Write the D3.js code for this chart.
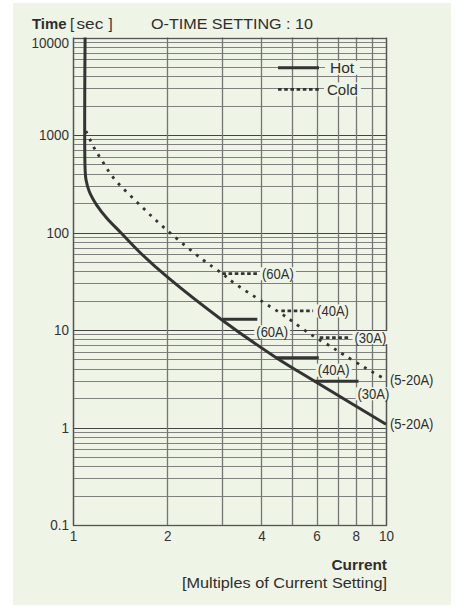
<!DOCTYPE html>
<html>
<head>
<meta charset="utf-8">
<script src="https://cdn.jsdelivr.net/npm/d3@7"></script>
<style>
  html, body { margin: 0; padding: 0; background: #ffffff; }
  svg { display: block; }
  text { font-family: "Liberation Sans", Arial, Helvetica, sans-serif; fill: #2e2e2e; }
</style>
</head>
<body>
<svg id="chart" width="458" height="606"></svg>
<script>
// ---------------- data ----------------
const xTickValues = [1, 2, 4, 6, 8, 10];
const xTickLabels = ["1", "2", "4", "6", "8", "10"];
const yTickValues = [0.1, 1, 10, 100, 1000, 10000];
const yTickLabels = ["0.1", "1", "10", "100", "1000", "10000"];

// Hot curve (current multiple, seconds)
const hotCurrent = [1.093, 1.093, 1.1, 1.128, 1.192, 1.283, 1.42, 1.64, 2.0, 3.0, 4.46, 5.9, 10];
const hotTime    = [10000, 450, 350, 262, 190, 140, 100, 62, 35, 12.6, 5.2, 3.0, 1.08];

// Cold curve
const coldCurrent = [1.1, 1.168, 1.237, 1.348, 1.64, 2.0, 2.59, 3.0, 3.24, 4.04, 4.63, 5.0, 5.78, 6.7, 7.31, 8.48, 9.24, 10];
const coldTime    = [1100, 739, 548, 362, 190, 105, 53, 37.8, 31, 19.4, 14.7, 12.4, 8.9, 6.7, 5.6, 4.19, 3.57, 3.1];

// Rating steps (horizontal cut-offs)
const stepSeries = ["cold", "cold", "cold", "hot", "hot", "hot"];
const stepLabels = ["(60A)", "(40A)", "(30A)", "(60A)", "(40A)", "(30A)"];
const stepStart  = [3.0, 4.63, 6.14, 3.0, 4.46, 5.9];
const stepEnd    = [3.9, 5.85, 7.7, 3.88, 6.1, 8.17];
const stepTime   = [37.8, 15.7, 8.36, 12.9, 5.2, 2.98];

const endLabel = "(5-20A)";
const legendNames = ["Hot", "Cold"];

// ---------------- drawing ----------------
const BG = "#eef4e6";
const INK = "#333333";
const svg = d3.select("#chart");

svg.append("rect").attr("x", 13).attr("y", 3).attr("width", 438).attr("height", 602).attr("fill", BG);

const plot = { left: 73, right: 386, top: 37.5, bottom: 525 };
const x = d3.scaleLog().domain([1, 10]).range([plot.left, plot.right]);
const y = d3.scaleLog().domain([0.1, 10000]).range([plot.bottom, plot.top]);

// condense helper: keep real text, slightly narrower glyphs
function condense(sel, f) {
  sel.each(function () {
    const w = this.getComputedTextLength();
    d3.select(this).attr("textLength", w * f).attr("lengthAdjust", "spacingAndGlyphs");
  });
}

// grid
const grid = svg.append("g");
const yGrid = y.ticks();
grid.selectAll("line.h").data(yGrid).join("line")
  .attr("x1", plot.left).attr("x2", plot.right)
  .attr("y1", d => Math.round(y(d)) + 0.5).attr("y2", d => Math.round(y(d)) + 0.5)
  .attr("stroke", d => Math.abs(Math.log10(d) - Math.round(Math.log10(d))) < 1e-6 ? "#444" : "#808080")
  .attr("stroke-width", 1.1);
const xGrid = x.ticks();
grid.selectAll("line.v").data(xGrid).join("line")
  .attr("y1", plot.top).attr("y2", plot.bottom)
  .attr("x1", d => Math.round(x(d)) + 0.5).attr("x2", d => Math.round(x(d)) + 0.5)
  .attr("stroke", "#767676").attr("stroke-width", 1.3);
grid.append("rect")
  .attr("x", plot.left + 0.5).attr("y", Math.round(plot.top) + 0.5)
  .attr("width", plot.right - plot.left).attr("height", plot.bottom - Math.round(plot.top))
  .attr("fill", "none").attr("stroke", "#555").attr("stroke-width", 1.3);

// axes
const yAxis = svg.append("g").attr("transform", `translate(${plot.left},0)`)
  .call(d3.axisLeft(y).tickValues(yTickValues).tickFormat((d, i) => yTickLabels[i]).tickSize(0).tickPadding(4));
yAxis.select(".domain").remove();
yAxis.selectAll("text").attr("font-size", 14.5).attr("font-family", null).style("fill", INK);
condense(yAxis.selectAll("text"), 0.93);
yAxis.selectAll(".tick").filter(d => d === 10000).select("text").attr("dy", "0.7em");

const xAxis = svg.append("g").attr("transform", `translate(0,${plot.bottom})`)
  .call(d3.axisBottom(x).tickValues(xTickValues).tickFormat((d, i) => xTickLabels[i]).tickSize(0).tickPadding(6));
xAxis.select(".domain").remove();
xAxis.selectAll("text").attr("font-size", 14.5).attr("font-family", null).style("fill", INK);
condense(xAxis.selectAll("text"), 0.93);

// helper: text with background box (hides grid lines)
function labelWithBg(g, tx, ty, str, opts = {}) {
  const t = g.append("text").attr("x", tx).attr("y", ty).attr("dy", "0.36em")
    .attr("font-size", opts.size || 14).attr("text-anchor", opts.anchor || "start").text(str);
  condense(t, opts.squeeze || 0.93);
  const b = t.node().getBBox();
  const pad = opts.pad == null ? 2 : opts.pad;
  g.insert("rect", () => t.node())
    .attr("x", b.x - pad).attr("y", b.y + 1.5).attr("width", b.width + 2 * pad).attr("height", b.height - 3)
    .attr("fill", BG);
  return t;
}

// curves
const line = d3.line().x(d => x(d[0])).y(d => y(d[1])).curve(d3.curveCatmullRom.alpha(0.5));
const hotPts = hotCurrent.map((c, i) => [c, hotTime[i]]);
const coldPts = coldCurrent.map((c, i) => [c, coldTime[i]]);

const marks = svg.append("g");
marks.append("path").attr("d", line(coldPts)).attr("fill", "none")
  .attr("stroke", INK).attr("stroke-width", 2.8).attr("stroke-dasharray", "2.8,6");
marks.append("path").attr("d", line(hotPts)).attr("fill", "none")
  .attr("stroke", INK).attr("stroke-width", 3).attr("stroke-linejoin", "round");

// steps
const labels = svg.append("g");
stepSeries.forEach((s, i) => {
  const yy = y(stepTime[i]);
  marks.append("line")
    .attr("x1", x(stepStart[i])).attr("x2", x(stepEnd[i]))
    .attr("y1", yy).attr("y2", yy)
    .attr("stroke", INK).attr("stroke-width", s === "hot" ? 3 : 2.7)
    .attr("stroke-dasharray", s === "hot" ? null : "3.6,2.6");
  if (s === "cold") {
    labelWithBg(labels, x(stepEnd[i]) + 4, yy, stepLabels[i]);
  } else {
    labelWithBg(labels, x(stepEnd[i]) - 1, yy + 12.5, stepLabels[i]);
  }
});

// end labels (5-20A)
labelWithBg(labels, x(10) + 4, y(coldTime[coldTime.length - 1]), endLabel, { pad: 1 });
labelWithBg(labels, x(10) + 4, y(hotTime[hotTime.length - 1]), endLabel, { pad: 1 });

// legend
const leg = svg.append("g");
leg.append("line").attr("x1", 278).attr("x2", 319).attr("y1", 67.7).attr("y2", 67.7)
  .attr("stroke", INK).attr("stroke-width", 3);
leg.append("line").attr("x1", 278).attr("x2", 319).attr("y1", 89.3).attr("y2", 89.3)
  .attr("stroke", INK).attr("stroke-width", 2.7).attr("stroke-dasharray", "3.6,2.6");
labelWithBg(leg, 330, 67.7, legendNames[0], { size: 15.5, pad: 5, squeeze: 1.0 });
labelWithBg(leg, 327, 89.3, legendNames[1], { size: 15.5, pad: 3, squeeze: 0.97 });

// titles
const title = svg.append("g");
title.append("text").attr("x", 32).attr("y", 29.3).attr("font-size", 14.5).attr("font-weight", "bold")
  .attr("textLength", 34.5).attr("lengthAdjust", "spacingAndGlyphs").text("Time");
const sec = title.append("text").attr("y", 29.3).attr("font-size", 15);
sec.append("tspan").attr("x", 70).text("[");
sec.append("tspan").attr("x", 76.5).attr("textLength", 26.8).attr("lengthAdjust", "spacingAndGlyphs").text("sec");
sec.append("tspan").attr("x", 108.5).text("]");
title.append("text").attr("x", 151).attr("y", 29.3).attr("font-size", 14.5)
  .attr("textLength", 162).attr("lengthAdjust", "spacingAndGlyphs").text("O-TIME SETTING : 10");

title.append("text").attr("x", 387).attr("y", 569.5).attr("text-anchor", "end")
  .attr("font-size", 15.5).attr("font-weight", "bold")
  .attr("textLength", 55.6).attr("lengthAdjust", "spacingAndGlyphs").text("Current");
title.append("text").attr("x", 182).attr("y", 588).attr("font-size", 14.5)
  .attr("textLength", 205).attr("lengthAdjust", "spacingAndGlyphs").text("[Multiples of Current Setting]");
</script>
</body>
</html>
